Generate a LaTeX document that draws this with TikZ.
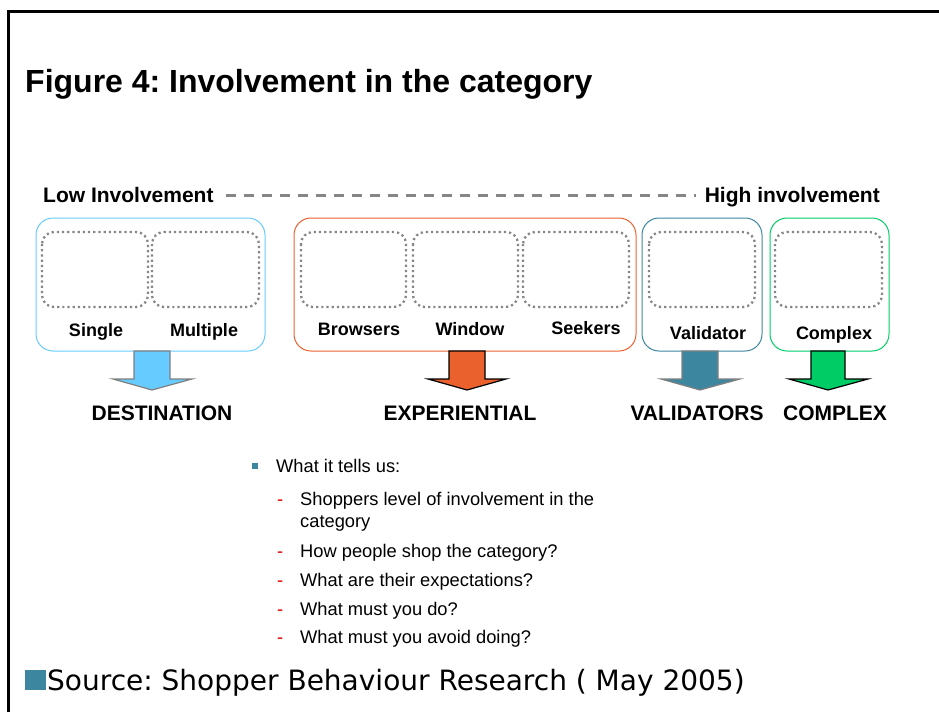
\documentclass[tikz,border=0pt]{standalone}
\usepackage{fontspec}
\setmainfont{Liberation Sans}
\newfontfamily\srcfont{DejaVu Sans}
\frenchspacing

\definecolor{destblue}{HTML}{66CCFF}
\definecolor{exporange}{HTML}{EA612E}
\definecolor{valteal}{HTML}{3D86A0}
\definecolor{cplxgreen}{HTML}{00CC66}
\definecolor{dotgray}{HTML}{868686}
\definecolor{dashred}{HTML}{E00000}

\begin{document}
\begin{tikzpicture}[x=1pt,y=-1pt,
  group/.style={rounded corners=17pt,line width=1pt},
  slot/.style={draw=dotgray,rounded corners=12pt,line width=2.3pt,
    dash pattern=on 2.2pt off 3pt},
  seg/.style={anchor=base,inner sep=0pt,font=\bfseries\fontsize{18}{20}\selectfont},
  kind/.style={anchor=base,inner sep=0pt,font=\bfseries\fontsize{21}{24}\selectfont},
  item/.style={anchor=base west,inner sep=0pt,font=\fontsize{18.3}{21}\selectfont}]
  \useasboundingbox (0,0) rectangle (939,712);

  % frame
  \draw[line width=3pt] (8,712) -- (8,11) -- (939,11);

  % title
  \node[anchor=base west,inner sep=0pt,font=\bfseries\fontsize{32}{38}\selectfont]
    (title) at (25,92) {Figure 4: Involvement in the category};

  % involvement scale
  \node[kind,anchor=base west] (low) at (43,202) {Low Involvement};
  \node[kind,anchor=base east] (high) at (880,202) {High involvement};
  \draw[dotgray,line width=3pt,dash pattern=on 10pt off 8pt]
    ([xshift=12pt,yshift=7pt]low.base east) -- ([xshift=-9pt,yshift=7pt]high.base west);

  % groups
  \draw[group,draw=destblue] (36,218) rectangle (265,351);
  \draw[group,draw=exporange] (294,218) rectangle (636,351);
  \draw[group,draw=valteal] (642,218) rectangle (762,351);
  \draw[group,draw=cplxgreen] (770,218) rectangle (889,351);

  % segments
  \foreach \xa/\xb in {42/148,152/259,301/406,413/518,523/629,649/755,775/882}
    \draw[slot] (\xa,232) rectangle (\xb,307);

  \node[seg] (single) at (96,336) {Single};
  \node[seg] (multiple) at (204,336) {Multiple};
  \node[seg] (browsers) at (359,335) {Browsers};
  \node[seg] (window) at (470,335) {Window};
  \node[seg] (seekers) at (586,334) {Seekers};
  \node[seg] (validator) at (708,339) {Validator};
  \node[seg] (complex) at (834,339) {Complex};

  % block arrows
  \foreach \sl/\sr/\hl/\hr/\tip/\col/\edge in {
      134/170/113/192/152/destblue/gray,
      449/485/428/506/467/exporange/black,
      682/718/661/740/700/valteal/gray,
      811/845/789/868/828/cplxgreen/black}
    \draw[fill=\col,draw=\edge,line width=1.2pt,line join=miter]
      (\sl,351) -- (\sr,351) -- (\sr,379) -- (\hr,379) -- (\tip,390)
      -- (\hl,379) -- (\sl,379) -- cycle;

  \node[kind] (destination) at (162,420) {DESTINATION};
  \node[kind] (experiential) at (460,420) {EXPERIENTIAL};
  \node[kind] (validators) at (697,420) {VALIDATORS};
  \node[kind] (cplx) at (835,420) {COMPLEX};

  % notes
  \fill[valteal] (252,463) rectangle (258,469);
  \node[item] (tells) at (276,472) {What it tells us:};
  \foreach \y/\txt [count=\i] in {
      505/Shoppers level of involvement in the,
      557/How people shop the category?,
      586/What are their expectations?,
      615/What must you do?,
      643/What must you avoid doing?} {
    \node[item,text=dashred] (d\i) at (277,\y) {-};
    \node[item] (q\i) at (300,\y) {\txt};
  }
  \node[item] (q1b) at (300,527) {category};

  % source
  \fill[valteal] (25,670) rectangle (46,690);
  \node[anchor=base west,inner sep=0pt,font=\srcfont\fontsize{28}{32}\selectfont]
    (source) at (47,690) {Source: Shopper Behaviour Research ( May 2005)};
\end{tikzpicture}
\end{document}
